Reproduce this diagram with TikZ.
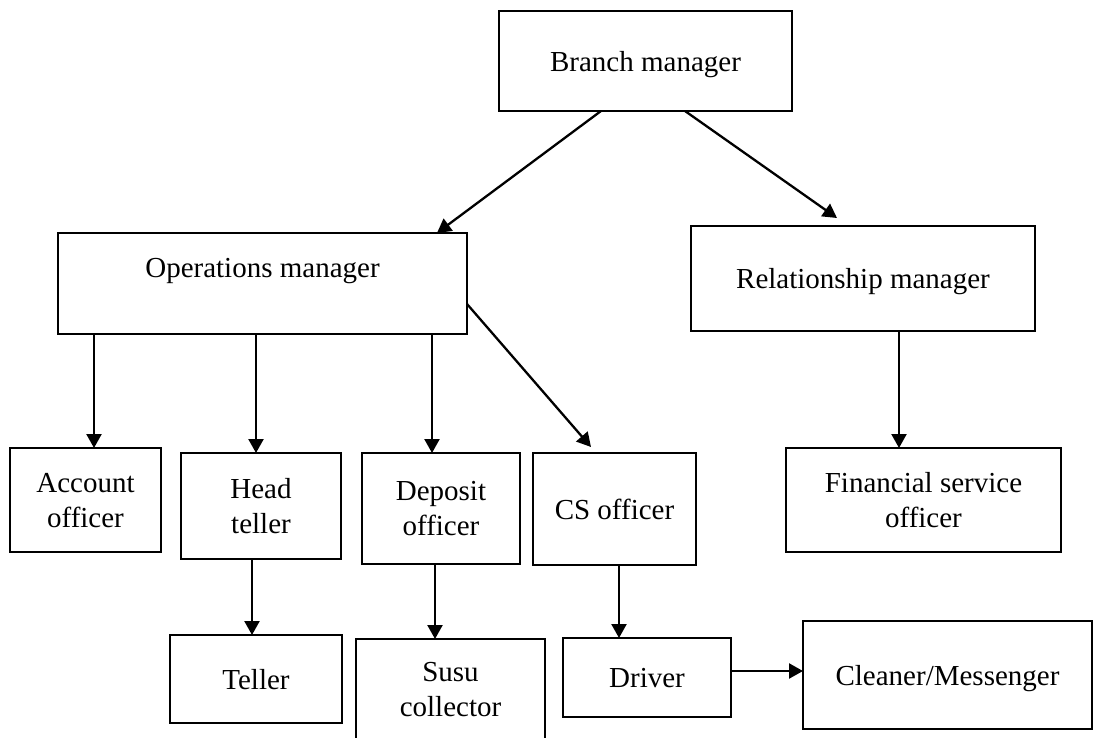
\documentclass[tikz,border=0pt]{standalone}
\usepackage{fontspec}
\setmainfont{Liberation Serif}
\usetikzlibrary{arrows.meta}
\begin{document}
\begin{tikzpicture}[x=1pt,y=-1pt,
  box/.style={draw, line width=2.6pt, inner sep=0pt, outer sep=0pt, align=center,
    text depth=0pt, font=\fontsize{29}{35}\selectfont},
  txt/.style={inner sep=0pt, outer sep=0pt, text depth=0pt, font=\fontsize{29}{35}\selectfont},
  arr/.style={line width=2.3pt, -{Triangle[length=14pt,width=15pt]}}]
\useasboundingbox (0,0) rectangle (1096,738);
% boxes
\node[box, minimum width=293pt, minimum height=100pt] (bm) at (645.5,61) {Branch manager};
\node[box, minimum width=409pt, minimum height=101pt] (om) at (262.5,283.5) {};
\node[txt] (omt) at (262.5,268) {Operations manager};
\node[box, minimum width=344pt, minimum height=105pt] (rm) at (863,278.5) {Relationship manager};
\node[box, minimum width=151pt, minimum height=104pt] (ao) at (85.5,500) {Account\\officer};
\node[box, minimum width=160pt, minimum height=106pt] (ht) at (261,506) {Head\\teller};
\node[box, minimum width=158pt, minimum height=111pt] (do) at (441,508.5) {Deposit\\officer};
\node[box, minimum width=163pt, minimum height=112pt] (cs) at (614.5,509) {CS officer};
\node[box, minimum width=275pt, minimum height=104pt] (fso) at (923.5,500) {Financial service\\officer};
\node[box, minimum width=172pt, minimum height=88pt] (tl) at (256,679) {Teller};
\node[box, minimum width=189pt, minimum height=101pt] (su) at (450.5,689.5) {Susu\\collector};
\node[box, minimum width=168pt, minimum height=79pt] (dr) at (647,677.5) {Driver};
\node[box, minimum width=289pt, minimum height=108pt] (cm) at (947.5,675) {Cleaner/Messenger};
% helper coordinates
\coordinate (xbl) at (601,0);
\coordinate (xbr) at (685,0);
\coordinate (xol) at (437,0);
\coordinate (rmtip) at (837,218);
\coordinate (yoc) at (0,304);
\coordinate (cstip) at (591,447);
\coordinate (xa) at (94,0);
\coordinate (xh) at (256,0);
\coordinate (xd) at (432,0);
\coordinate (xt) at (252,0);
\coordinate (xs) at (435,0);
\coordinate (xc) at (619,0);
\coordinate (xf) at (899,0);
\coordinate (yc) at (0,671);
% connectors
\draw[arr] (bm.south -| xbl) -- (om.north -| xol);
\draw[arr] (bm.south -| xbr) -- (rmtip);
\draw[arr] (om.east |- yoc) -- (cstip);
\draw[arr] (om.south -| xa) -- (ao.north -| xa);
\draw[arr] (om.south -| xh) -- (ht.north -| xh);
\draw[arr] (om.south -| xd) -- (do.north -| xd);
\draw[arr] (rm.south -| xf) -- (fso.north -| xf);
\draw[arr] (ht.south -| xt) -- (tl.north -| xt);
\draw[arr] (do.south -| xs) -- (su.north -| xs);
\draw[arr] (cs.south -| xc) -- (dr.north -| xc);
\draw[arr] (dr.east |- yc) -- (cm.west |- yc);
\end{tikzpicture}
\end{document}
